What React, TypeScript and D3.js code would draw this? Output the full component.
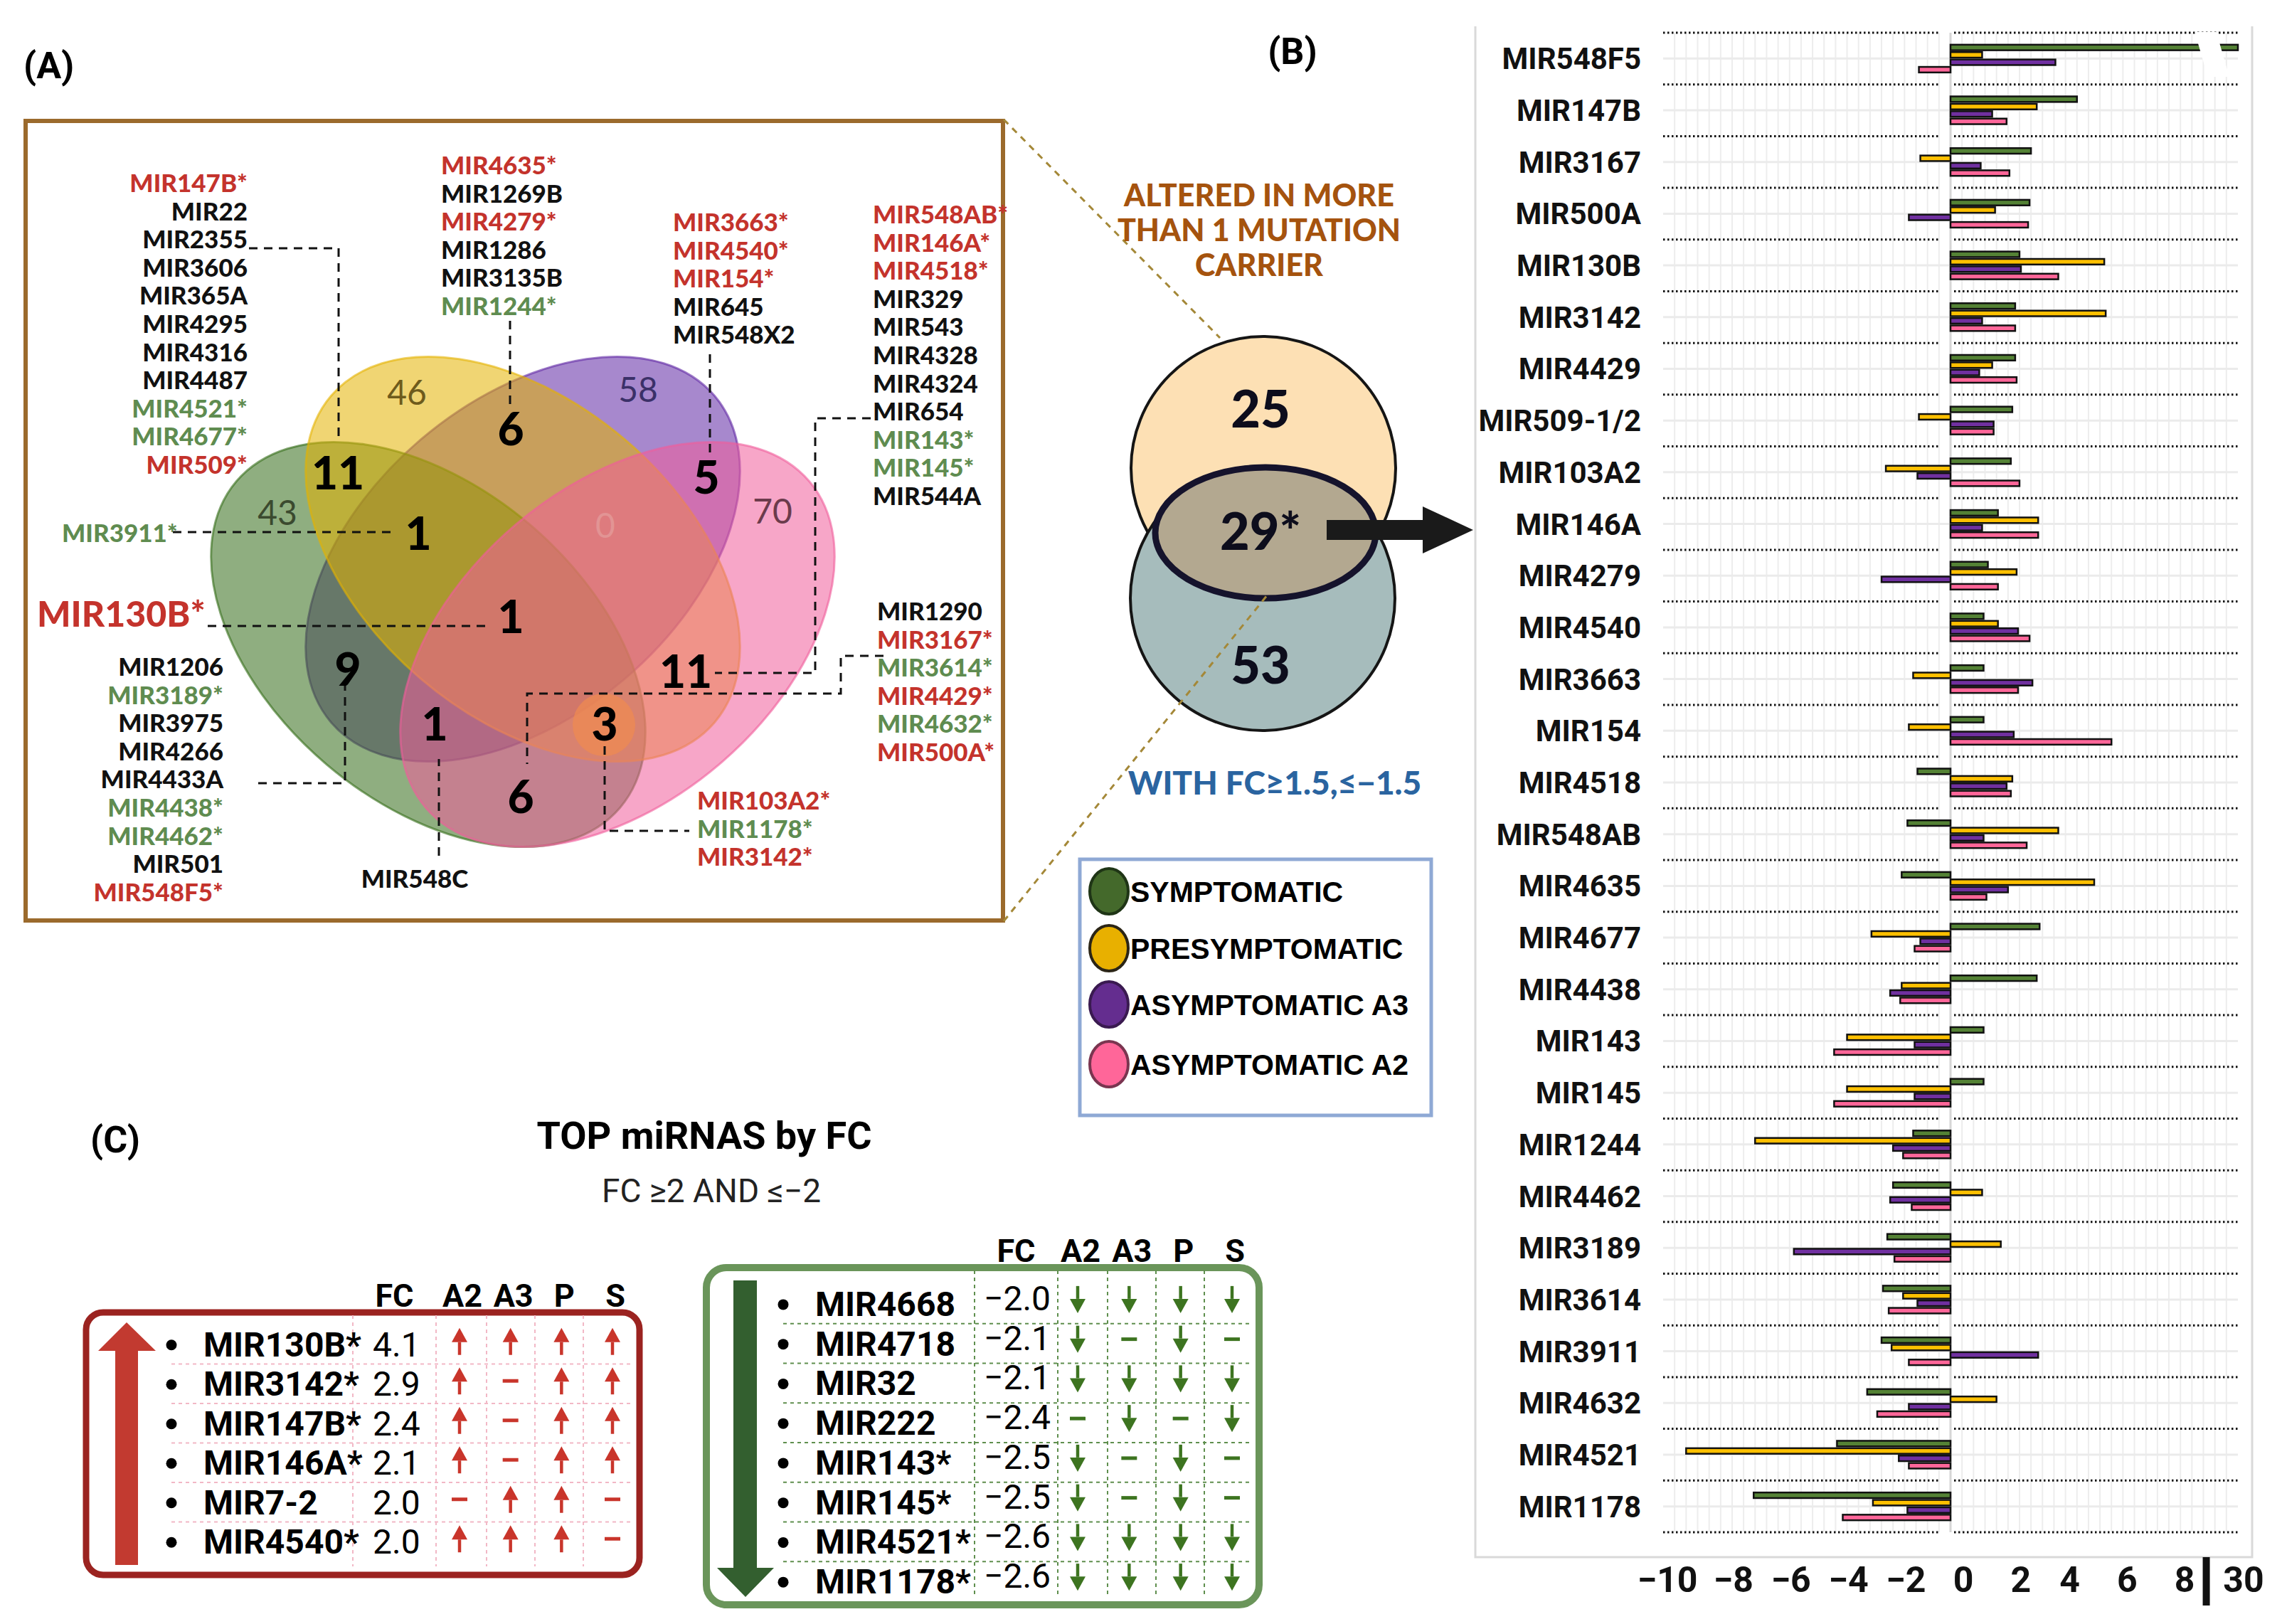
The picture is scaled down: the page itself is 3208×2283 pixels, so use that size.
import * as d3 from "d3";

const W = 3208;
const H = 2283;

// ---------- panel B: fold change per miRNA ----------
const MIRS = ["MIR548F5", "MIR147B", "MIR3167", "MIR500A", "MIR130B", "MIR3142", "MIR4429", "MIR509-1/2", "MIR103A2", "MIR146A", "MIR4279", "MIR4540", "MIR3663", "MIR154", "MIR4518", "MIR548AB", "MIR4635", "MIR4677", "MIR4438", "MIR143", "MIR145", "MIR1244", "MIR4462", "MIR3189", "MIR3614", "MIR3911", "MIR4632", "MIR4521", "MIR1178"];
const FC_S = [30, 4.4, 2.8, 2.75, 2.4, 2.25, 2.25, 2.15, 2.1, 1.65, 1.3, 1.15, 1.15, 1.15, -1.15, -1.5, -1.7, 3.1, 3.0, 1.15, 1.15, -1.3, -2.0, -2.2, -2.35, -2.4, -2.9, -3.95, -6.85];
const FC_P = [1.1, 3.0, -1.05, 1.55, 5.35, 5.4, 1.45, -1.1, -2.25, 3.05, 2.3, 1.65, -1.3, -1.45, 2.15, 3.75, 5.0, -2.75, -1.7, -3.6, -3.6, -6.8, 1.1, 1.75, -1.65, -2.05, 1.6, -9.2, -2.7];
const FC_A3 = [3.65, 1.45, 1.05, -1.45, 2.45, 1.1, 1.0, 1.5, -1.15, 1.1, -2.4, 2.35, 2.85, 2.2, 1.95, 1.15, 2.0, -1.05, -2.1, -1.25, -1.25, -2.0, -2.1, -5.45, -1.15, 3.05, -1.45, -1.8, -1.5];
const FC_A2 = [-1.1, 1.95, 2.05, 2.7, 3.75, 2.25, 2.3, 1.5, 2.4, 3.05, 1.65, 2.75, 2.35, 5.6, 2.1, 2.65, 1.25, -1.25, -1.75, -4.05, -4.05, -1.65, -1.35, -1.95, -2.15, -1.45, -2.55, -1.45, -3.75];
const SERIES = ["S", "P", "A3", "A2"];
const SERIES_LABELS = ["SYMPTOMATIC", "PRESYMPTOMATIC", "ASYMPTOMATIC A3", "ASYMPTOMATIC A2"];
const X_TICKS = [-10, -8, -6, -4, -2, 0, 2, 4, 6, 8];
const BREAK_LABEL = "30";

// ---------- panel A: venn counts + gene lists ----------
const REGIONS = ["S", "P", "A3", "A2", "S&P", "P&A3", "A3&A2", "S&A3", "P&A2", "S&A2", "S&P&A3", "P&A3&A2", "S&P&A2", "S&A3&A2", "ALL"];
const REGION_COUNTS = [43, 46, 58, 70, 11, 6, 5, 9, 11, 6, 1, 0, 3, 1, 1];

// u = red (*), d = green (*), n = black
const GENES_S_P = [["MIR147B*", "u"], ["MIR22", "n"], ["MIR2355", "n"], ["MIR3606", "n"], ["MIR365A", "n"], ["MIR4295", "n"], ["MIR4316", "n"], ["MIR4487", "n"], ["MIR4521*", "d"], ["MIR4677*", "d"], ["MIR509*", "u"]];
const GENES_S_P_A3 = [["MIR3911*", "d"]];
const GENES_ALL = [["MIR130B*", "u"]];
const GENES_S_A3 = [["MIR1206", "n"], ["MIR3189*", "d"], ["MIR3975", "n"], ["MIR4266", "n"], ["MIR4433A", "n"], ["MIR4438*", "d"], ["MIR4462*", "d"], ["MIR501", "n"], ["MIR548F5*", "u"]];
const GENES_S_A3_A2 = [["MIR548C", "n"]];
const GENES_P_A3 = [["MIR4635*", "u"], ["MIR1269B", "n"], ["MIR4279*", "u"], ["MIR1286", "n"], ["MIR3135B", "n"], ["MIR1244*", "d"]];
const GENES_A3_A2 = [["MIR3663*", "u"], ["MIR4540*", "u"], ["MIR154*", "u"], ["MIR645", "n"], ["MIR548X2", "n"]];
const GENES_P_A2 = [["MIR548AB*", "u"], ["MIR146A*", "u"], ["MIR4518*", "u"], ["MIR329", "n"], ["MIR543", "n"], ["MIR4328", "n"], ["MIR4324", "n"], ["MIR654", "n"], ["MIR143*", "d"], ["MIR145*", "d"], ["MIR544A", "n"]];
const GENES_S_A2 = [["MIR1290", "n"], ["MIR3167*", "u"], ["MIR3614*", "d"], ["MIR4429*", "u"], ["MIR4632*", "d"], ["MIR500A*", "u"]];
const GENES_S_P_A2 = [["MIR103A2*", "u"], ["MIR1178*", "d"], ["MIR3142*", "u"]];

// ---------- panel B: overlap ----------
const OVERLAP_COUNTS = ["25", "29*", "53"];

// ---------- panel C: top miRNAs ----------
const TABLE_COLS = ["A2", "A3", "P", "S"];
const UP_NAMES = ["MIR130B*", "MIR3142*", "MIR147B*", "MIR146A*", "MIR7-2", "MIR4540*"];
const UP_FC = ["4.1", "2.9", "2.4", "2.1", "2.0", "2.0"];
const UP_MARKS = [["u", "u", "u", "u"], ["u", "-", "u", "u"], ["u", "-", "u", "u"], ["u", "-", "u", "u"], ["-", "u", "u", "-"], ["u", "u", "u", "-"]];
const DOWN_NAMES = ["MIR4668", "MIR4718", "MIR32", "MIR222", "MIR143*", "MIR145*", "MIR4521*", "MIR1178*"];
const DOWN_FC = ["\u22122.0", "\u22122.1", "\u22122.1", "\u22122.4", "\u22122.5", "\u22122.5", "\u22122.6", "\u22122.6"];
const DOWN_MARKS = [["d", "d", "d", "d"], ["d", "-", "d", "-"], ["d", "d", "d", "d"], ["-", "d", "-", "d"], ["d", "-", "d", "-"], ["d", "-", "d", "-"], ["d", "d", "d", "d"], ["d", "d", "d", "d"]];

// ---------- styling ----------
const VENN_FONT = "Lato, 'Open Sans', sans-serif";
const ROBOTO = "Roboto, sans-serif";
const ARIAL = "'Liberation Sans', Arial, sans-serif";
const BAR_COLORS = { S: "#548235", P: "#ffc000", A3: "#7030a0", A2: "#ff6699" };
const LEGEND_COLORS = { S: ["#44692b", "#1f3516"], P: ["#e8b000", "#2b2516"], A3: ["#642d8f", "#3a1a50"], A2: ["#ff6699", "#7a3550"] };
const VENN_COLORS = { S: "#336c18", P: "#e4b300", A3: "#5f27a4", A2: "#f05d9b" };
const GENE_COLORS = { u: "#c4332c", d: "#5f8c50", n: "#111111" };

// ---------- layout ----------
const ELLIPSE_RX = 354;
const ELLIPSE_RY = 221;
const ELLIPSES = {
  S: { cx: 602, cy: 906, rot: 40.4 },
  P: { cx: 735, cy: 786, rot: 40.4 },
  A3: { cx: 735, cy: 786, rot: -40.4 },
  A2: { cx: 868, cy: 906, rot: -40.4 },
};
const DRAW_ORDER = ["A3", "S", "P", "A2"];
const REGION_POS = {
  S: [390, 719], P: [572, 550], A3: [897, 546], A2: [1086, 717],
  "S&P": [475, 663], "P&A3": [718, 601], "A3&A2": [993, 669], "S&A3": [489, 939],
  "P&A2": [964, 942], "S&A2": [732, 1118], "S&P&A3": [588, 748], "P&A3&A2": [851, 737],
  "S&P&A2": [850, 1016], "S&A3&A2": [611, 1016], ALL: [718, 865],
};
const SINGLE_COUNT_COLORS = { S: "#3b4a2f", P: "#6e5b1c", A3: "#3b3068", A2: "#6b3b4c", "P&A3&A2": "#e29494" };

const GENE_BLOCKS = [
  { genes: GENES_S_P, x: 348, y: 256, anchor: "end", size: 35 },
  { genes: GENES_S_P_A3, x: 87, y: 748, anchor: "start", size: 35 },
  { genes: GENES_ALL, x: 52, y: 862, anchor: "start", size: 50 },
  { genes: GENES_S_A3, x: 314, y: 936, anchor: "end", size: 35 },
  { genes: GENES_S_A3_A2, x: 583, y: 1234, anchor: "middle", size: 35 },
  { genes: GENES_P_A3, x: 620, y: 231, anchor: "start", size: 35 },
  { genes: GENES_A3_A2, x: 946, y: 311, anchor: "start", size: 35 },
  { genes: GENES_P_A2, x: 1227, y: 300, anchor: "start", size: 35 },
  { genes: GENES_S_A2, x: 1233, y: 858, anchor: "start", size: 35 },
  { genes: GENES_S_P_A2, x: 980, y: 1124, anchor: "start", size: 35 },
];
const LEADERS = [
  [[350, 349], [476, 349], [476, 622]],
  [[243, 748], [558, 748]],
  [[292, 880], [691, 880]],
  [[363, 1101], [485, 1101], [485, 953]],
  [[617, 1203], [617, 1067]],
  [[717, 451], [717, 568]],
  [[998, 498], [998, 638]],
  [[1224, 588], [1146, 588], [1146, 946], [1005, 946]],
  [[1242, 922], [1182, 922], [1182, 975], [741, 975], [741, 1074]],
  [[850, 1049], [850, 1168], [969, 1168]],
];

function VennPanel() {
  const line = d3.line();
  return (
    <g>
      <text x={33} y={110} fontFamily={ROBOTO} fontWeight={700} fontSize={52}>(A)</text>
      <rect x={36} y={170} width={1374} height={1124} fill="#fff" stroke="#9b6a2c" strokeWidth={6} />
      {DRAW_ORDER.map((k) => {
        const e = ELLIPSES[k];
        return (
          <ellipse key={k} cx={0} cy={0} rx={ELLIPSE_RX} ry={ELLIPSE_RY}
            transform={`translate(${e.cx},${e.cy}) rotate(${e.rot})`}
            fill={VENN_COLORS[k]} fillOpacity={0.55} stroke={VENN_COLORS[k]} strokeOpacity={0.6} strokeWidth={3} />
        );
      })}
      <circle cx={849} cy={1019} r={44} fill="#ee8a52" opacity={0.75} />
      {LEADERS.map((pts, i) => (
        <path key={i} d={line(pts as [number, number][]) ?? ""} fill="none" stroke="#111" strokeWidth={3} strokeDasharray="12,9" />
      ))}
      {REGIONS.map((r, i) => {
        const [px, py] = REGION_POS[r];
        const single = SINGLE_COUNT_COLORS[r];
        return (
          <text key={r} x={px} y={py} textAnchor="middle" dominantBaseline="central"
            fontFamily={VENN_FONT} fontWeight={single ? 400 : 900} fontSize={single ? 48 : 64}
            fill={single ?? "#000"}>
            {REGION_COUNTS[i]}
          </text>
        );
      })}
      {GENE_BLOCKS.map((b, bi) => (
        <g key={bi}>
          {b.genes.map(([name, kind], i) => (
            <text key={name} x={b.x} y={b.y + i * 39.6} textAnchor={b.anchor} dominantBaseline="central"
              fontFamily={VENN_FONT} fontWeight={900} fontSize={b.size} fill={GENE_COLORS[kind]}>
              {name}
            </text>
          ))}
        </g>
      ))}
    </g>
  );
}

function OverlapPanel() {
  const cx = 1775;
  const ys = [573, 745, 933];
  return (
    <g>
      <text x={1817} y={90} textAnchor="middle" fontFamily={ROBOTO} fontWeight={700} fontSize={52}>(B)</text>
      <line x1={1411} y1={168} x2={1715} y2={475} stroke="#a48838" strokeWidth={3} strokeDasharray="9,8" />
      {["ALTERED IN MORE", "THAN 1 MUTATION", "CARRIER"].map((t, i) => (
        <text key={t} x={1770} y={273 + i * 49} textAnchor="middle" dominantBaseline="central"
          fontFamily={VENN_FONT} fontWeight={900} fontSize={43} fill="#a5530e">{t}</text>
      ))}
      <ellipse cx={1776} cy={658} rx={186} ry={185} fill="#fde0b4" stroke="#151515" strokeWidth={4} />
      <circle cx={1775} cy={841} r={186} fill="#a6bcbc" stroke="#151515" strokeWidth={4} />
      <ellipse cx={1779} cy={749} rx={155} ry={92} fill="#b3a890" stroke="#15132c" strokeWidth={9} />
      <line x1={1411} y1={1295} x2={1782} y2={836} stroke="#a48838" strokeWidth={3} strokeDasharray="9,8" />
      {OVERLAP_COUNTS.map((t, i) => (
        <text key={t} x={cx - 3} y={ys[i]} textAnchor="middle" dominantBaseline="central"
          fontFamily={VENN_FONT} fontWeight={900} fontSize={72} fill="#0d0d1c">{t}</text>
      ))}
      <path d="M1865,731 L2000,731 L2000,712 L2071,745 L2000,778 L2000,759 L1865,759 Z" fill="#1a1a1a" />
      <text x={1792} y={1099} textAnchor="middle" dominantBaseline="central"
        fontFamily={VENN_FONT} fontWeight={900} fontSize={46} fill="#2a64a0">WITH FC≥1.5,≤−1.5</text>
    </g>
  );
}

function Legend() {
  const ys = [1253, 1333, 1412, 1496];
  return (
    <g>
      <rect x={1518} y={1208} width={494} height={360} fill="#fff" stroke="#8fa9d5" strokeWidth={5} />
      {SERIES.map((s, i) => (
        <g key={s}>
          <ellipse cx={1559} cy={ys[i]} rx={27} ry={32} fill={LEGEND_COLORS[s][0]} stroke={LEGEND_COLORS[s][1]} strokeWidth={4} />
          <text x={1589} y={ys[i] + 15} fontFamily={ARIAL} fontWeight={700} fontSize={41} fill="#000">{SERIES_LABELS[i]}</text>
        </g>
      ))}
    </g>
  );
}

function BarPanel() {
  const values = { S: FC_S, P: FC_P, A3: FC_A3, A2: FC_A2 };
  const x = d3.scaleLinear().domain([-10, 10]).range([2338, 3146]).clamp(true);
  const y = d3.scaleBand<string>().domain(MIRS).range([46, 2154]);
  const mid = y.bandwidth() / 2;
  const sub = d3.scaleBand<string>().domain(SERIES).range([mid - 19.5, mid + 19.5]).paddingInner(0.25);
  const [top, bottom] = y.range();
  const grid = d3.range(-24, 25).filter((i) => i !== 0).map((i) => i * 0.4);
  const seps = MIRS.map((m) => y(m) ?? 0).concat([bottom]);
  const x0 = x(0);
  const rowY = y(MIRS[0]) ?? 0;
  return (
    <g>
      <path d={`M2074,37 V2189 H3166 V37`} fill="none" stroke="#d9d9d9" strokeWidth={3} />
      {grid.map((g) => (
        <line key={g} x1={x(g)} x2={x(g)} y1={top} y2={bottom} stroke="#ededed" strokeWidth={2} />
      ))}
      {MIRS.map((m) => (
        <line key={m} x1={x(-10)} x2={x(10)} y1={(y(m) ?? 0) + mid} y2={(y(m) ?? 0) + mid} stroke="#ebebeb" strokeWidth={3} />
      ))}
      <line x1={x0} x2={x0} y1={top} y2={bottom} stroke="#d6d6d6" strokeWidth={3} />
      {seps.map((sy, i) => (
        <g key={i}>
          <line x1={x(-10)} x2={x0 - 15} y1={sy} y2={sy} stroke="#111" strokeWidth={3} strokeDasharray="2.5,3.5" />
          <line x1={x0 + 5} x2={x(10)} y1={sy} y2={sy} stroke="#111" strokeWidth={3} strokeDasharray="2.5,3.5" />
        </g>
      ))}
      {MIRS.map((m, i) => (
        <g key={m} transform={`translate(0,${y(m)})`}>
          {SERIES.map((s) => {
            const v = values[s][i];
            const xa = x(Math.min(0, v));
            const xb = x(Math.max(0, v));
            return (
              <rect key={s} x={xa} y={sub(s)} width={Math.max(0, xb - xa)} height={sub.bandwidth()}
                fill={BAR_COLORS[s]} stroke="#111" strokeWidth={2.5} />
            );
          })}
          <text x={2307} y={mid + 15} textAnchor="end" fontFamily={ROBOTO} fontWeight={700} fontSize={42} fill="#111">{m}</text>
        </g>
      ))}
      {/* axis break on the clipped bar */}
      <path d={`M${x(8.5)},${rowY - 1} L${x(9.25)},${rowY - 1} L${x(9.7)},${rowY + 62} L${x(8.95)},${rowY + 62} Z`} fill="#fff" />
      {X_TICKS.map((t) => (
        <text key={t} x={x(t) + (t >= 4 || t === -10 ? 6 : 18)} y={2238} textAnchor="middle"
          fontFamily={ROBOTO} fontWeight={700} fontSize={50} fill="#111">{t < 0 ? `\u2212${-t}` : t}</text>
      ))}
      <rect x={x(8.9) - 5} y={2189} width={10} height={68} fill="#111" />
      <text x={x(10) + 8} y={2238} textAnchor="middle" fontFamily={ROBOTO} fontWeight={700} fontSize={50} fill="#111">{BREAK_LABEL}</text>
    </g>
  );
}

function Mark({ cx, cy, kind, color }) {
  if (kind === "-") {
    return <line x1={cx - 11} x2={cx + 11} y1={cy} y2={cy} stroke={color} strokeWidth={5} />;
  }
  const s = kind === "u" ? -1 : 1;
  const tip = cy + s * 19;
  const tail = cy - s * 19;
  const base = tip - s * 20;
  return (
    <g>
      <line x1={cx} x2={cx} y1={tail} y2={base} stroke={color} strokeWidth={4.5} />
      <path d={`M${cx},${tip} L${cx - 11},${base} L${cx + 11},${base} Z`} fill={color} />
    </g>
  );
}

function FcTable({ names, fcs, marks, box, rows, cols, dividers, headerY, nameX, fcX, bulletX, color, frame, grid, nameSize, fcDy, markDy, bigArrow }) {
  const yb = d3.scaleBand<string>().domain(names).range(rows);
  const xc = d3.scalePoint<string>().domain(TABLE_COLS).range(cols);
  const h = yb.bandwidth();
  return (
    <g>
      <rect x={box[0]} y={box[1]} width={box[2]} height={box[3]} rx={box[4]} fill="#fff" stroke={frame} strokeWidth={box[5]} />
      <text x={dividers[0] + (dividers[1] - dividers[0]) / 2} y={headerY} textAnchor="middle" fontFamily={ROBOTO} fontWeight={700} fontSize={45}>FC</text>
      {TABLE_COLS.map((c) => (
        <text key={c} x={(xc(c) ?? 0) + 4} y={headerY} textAnchor="middle" fontFamily={ROBOTO} fontWeight={700} fontSize={45}>{c}</text>
      ))}
      {dividers.map((dx, i) => (
        <line key={i} x1={dx} x2={dx} y1={box[1] + 4} y2={box[1] + box[3] - 12} stroke={grid} strokeWidth={2} strokeDasharray="5,5" />
      ))}
      {names.slice(1).map((n) => (
        <line key={n} x1={bulletX} x2={box[0] + box[2] - 12} y1={yb(n)} y2={yb(n)} stroke={grid} strokeWidth={2} strokeDasharray="5,5" />
      ))}
      {bigArrow}
      {names.map((n, i) => {
        const cy = (yb(n) ?? 0) + h / 2;
        return (
          <g key={n}>
            <circle cx={bulletX} cy={cy + 1} r={7.5} fill="#000" />
            <text x={nameX} y={cy + 17} fontFamily={ROBOTO} fontWeight={700} fontSize={nameSize} fill="#000">{n}</text>
            <text x={fcX} y={cy + 17 + fcDy} fontFamily={ROBOTO} fontWeight={400} fontSize={48} fill="#000">{fcs[i]}</text>
            {TABLE_COLS.map((c, j) => (
              <Mark key={c} cx={xc(c) ?? 0} cy={cy + markDy} kind={marks[i][j]} color={color} />
            ))}
          </g>
        );
      })}
    </g>
  );
}

function TablesPanel() {
  return (
    <g>
      <text x={162} y={1620} textAnchor="middle" fontFamily={ROBOTO} fontWeight={700} fontSize={52}>(C)</text>
      <text x={990} y={1615} textAnchor="middle" fontFamily={ROBOTO} fontWeight={700} fontSize={54}>TOP miRNAS by FC</text>
      <text x={1000} y={1690} textAnchor="middle" fontFamily={ROBOTO} fontWeight={400} fontSize={46} fill="#222">FC ≥2 AND ≤−2</text>
      <FcTable
        names={UP_NAMES} fcs={UP_FC} marks={UP_MARKS}
        box={[121, 1845, 778, 369, 24, 9]} rows={[1862, 2195]} cols={[646, 861]}
        dividers={[496, 613, 684, 752, 820]} headerY={1837}
        nameX={286} fcX={524} bulletX={241} nameSize={48} fcDy={0} markDy={-4}
        color="#c9352b" frame="#9b2320" grid="#f2b8c6"
        bigArrow={<path d="M162,2200 V1899 H138 L178,1859 L219,1899 H194 V2200 Z" fill="#c23a30" />}
      />
      <FcTable
        names={DOWN_NAMES} fcs={DOWN_FC} marks={DOWN_MARKS}
        box={[993, 1782, 777, 474, 28, 10]} rows={[1805, 2251]} cols={[1515, 1732]}
        dividers={[1370, 1487, 1557, 1625, 1693]} headerY={1774}
        nameX={1146} fcX={1383} bulletX={1101} nameSize={48} fcDy={-8} markDy={-6}
        color="#3d7420" frame="#6a955a" grid="#5f8f4e"
        bigArrow={<path d="M1031,1800 V2204 H1008 L1048,2245 L1088,2204 H1064 V1800 Z" fill="#335f2f" />}
      />
    </g>
  );
}

export default function App() {
  return (
    <svg width={W} height={H} viewBox={`0 0 ${W} ${H}`} style={{ position: "absolute", left: 0, top: 0, display: "block" }}>
      <rect width={W} height={H} fill="#fff" />
      <VennPanel />
      <OverlapPanel />
      <Legend />
      <BarPanel />
      <TablesPanel />
    </svg>
  );
}
